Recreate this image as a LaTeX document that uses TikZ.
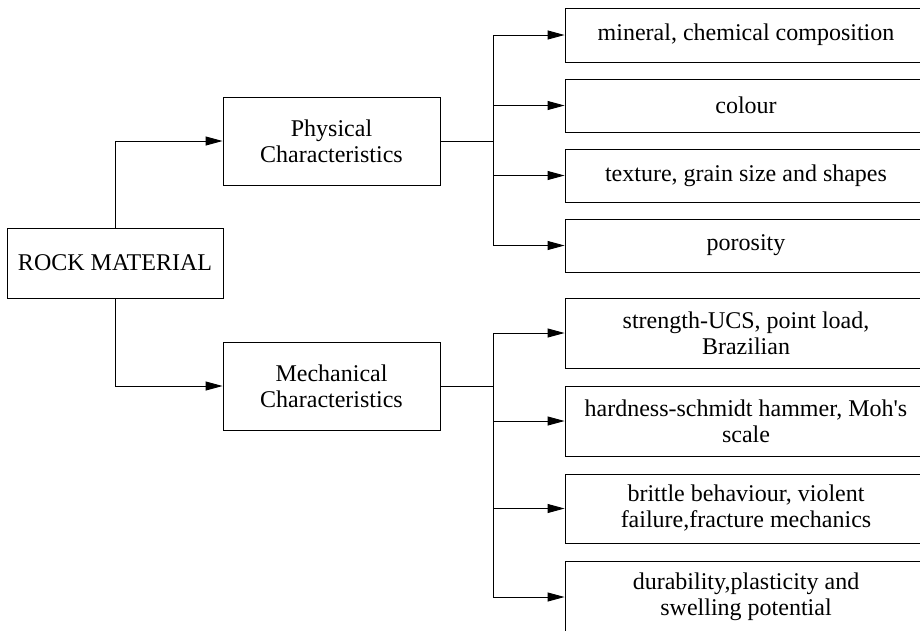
\documentclass[tikz,border=0pt]{standalone}
\usepackage{fontspec}
\setmainfont{Liberation Serif}
\usetikzlibrary{arrows.meta}
\begin{document}
\begin{tikzpicture}[x=1pt,y=-1pt,
  box/.style={draw,line width=0.9pt,align=center,inner sep=2pt,
    font=\fontsize{24}{26}\selectfont},
  rbox/.style={box,minimum width=362pt},
  conn/.style={line width=0.9pt},
  arr/.style={conn,-{Triangle[length=17pt,width=9pt]}}]
\useasboundingbox (0,0) rectangle (920,630);
\clip (0,0) rectangle (920,630);
\fill[white] (0,0) rectangle (920,630);
\node[box,minimum width=216pt,minimum height=70pt] (rock) at (115,263) {ROCK MATERIAL};
\node[box,minimum width=217pt,minimum height=88pt] (phys) at (331.5,141) {Physical\\Characteristics};
\node[box,minimum width=217pt,minimum height=88pt] (mech) at (331.5,386) {Mechanical\\Characteristics};
\node[rbox,minimum height=54pt] (r1) at (746,35) {mineral, chemical composition};
\node[rbox,minimum height=53pt] (r2) at (746,105.5) {colour};
\node[rbox,minimum height=53pt] (r3) at (746,175.5) {texture, grain size and shapes};
\node[rbox,minimum height=53pt] (r4) at (746,245.5) {porosity};
\node[rbox,minimum height=70pt] (m1) at (746,333) {strength-UCS, point load,\\Brazilian};
\node[rbox,minimum height=70pt] (m2) at (746,421) {hardness-schmidt hammer, Moh\textquotesingle s\\scale};
\node[rbox,minimum height=69pt] (m3) at (746,508.5) {brittle behaviour, violent\\failure,fracture mechanics};
\node[rbox,minimum height=72pt] (m4) at (746,597) {durability,plasticity and\\swelling potential};
\draw[arr] (rock.north) |- (phys.west);
\draw[arr] (rock.south) |- (mech.west);
\coordinate (pb) at (493,141);
\coordinate (mb) at (493,386);
\foreach \t in {r1,r2,r3,r4}{\draw[arr] (phys.east) -- (pb) |- (\t.west);}
\foreach \t in {m1,m2,m3,m4}{\draw[arr] (mech.east) -- (mb) |- (\t.west);}
\end{tikzpicture}
\end{document}
